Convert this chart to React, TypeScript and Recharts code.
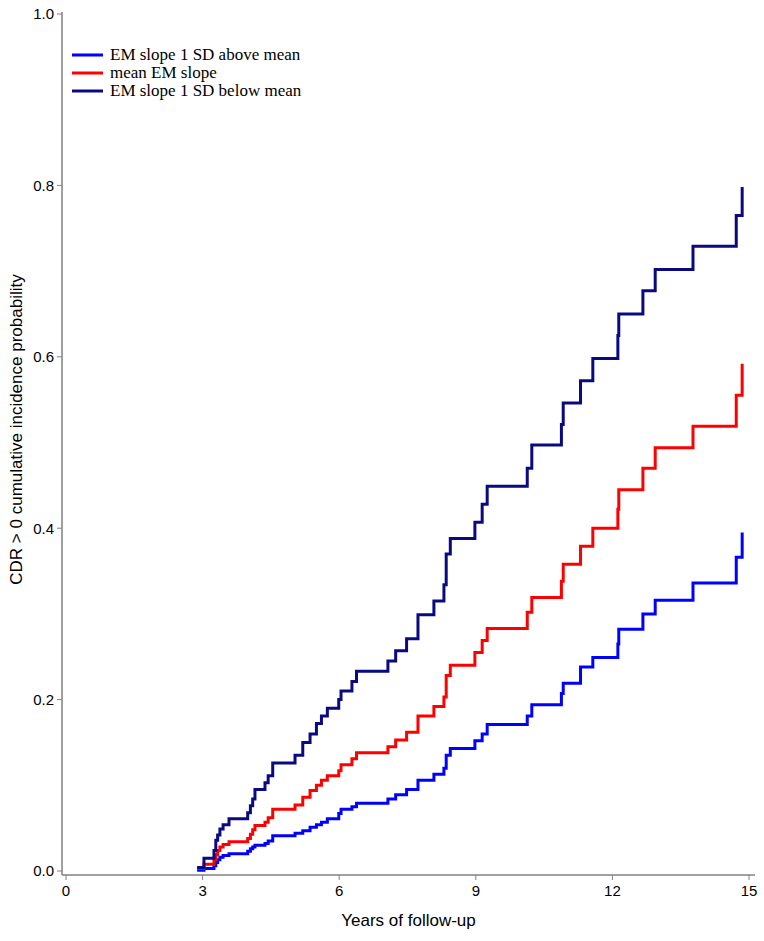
import { LineChart, Line, XAxis, YAxis, Legend, Label } from "recharts";

// event times (years) shared by the three predicted curves
const years = [
  2.88, 3.03, 3.25, 3.29, 3.33, 3.38, 3.45, 3.58, 3.99, 4.05, 4.1, 4.15, 4.37,
  4.44, 4.54, 5.03, 5.2, 5.36, 5.5, 5.61, 5.74, 5.99, 6.04, 6.28, 6.38, 7.07,
  7.24, 7.48, 7.73, 8.08, 8.3, 8.35, 8.44, 8.98, 9.14, 9.25, 10.13, 10.23,
  10.88, 10.92, 11.3, 11.57, 12.12, 12.14, 12.67, 12.94, 13.77, 14.72, 14.85,
];

const aboveMean = [
  0.001, 0.003, 0.006, 0.01, 0.013, 0.016, 0.018, 0.02, 0.023, 0.026, 0.028,
  0.03, 0.032, 0.035, 0.041, 0.044, 0.047, 0.051, 0.054, 0.057, 0.061, 0.067,
  0.072, 0.075, 0.079, 0.084, 0.089, 0.095, 0.106, 0.113, 0.12, 0.135, 0.143,
  0.152, 0.16, 0.171, 0.181, 0.194, 0.207, 0.219, 0.238, 0.249, 0.265, 0.282,
  0.3, 0.316, 0.336, 0.366, 0.395,
];

const meanSlope = [
  0.003, 0.008, 0.013, 0.019, 0.024, 0.028, 0.031, 0.034, 0.038, 0.043, 0.048,
  0.053, 0.057, 0.062, 0.072, 0.077, 0.086, 0.094, 0.1, 0.106, 0.111, 0.117,
  0.124, 0.131, 0.138, 0.145, 0.153, 0.162, 0.181, 0.192, 0.203, 0.228, 0.24,
  0.255, 0.269, 0.283, 0.302, 0.319, 0.338, 0.358, 0.379, 0.4, 0.422, 0.445,
  0.47, 0.494, 0.519, 0.555, 0.592,
];

const belowMean = [
  0.004, 0.015, 0.024, 0.036, 0.042, 0.049, 0.054, 0.061, 0.068, 0.076, 0.084,
  0.095, 0.103, 0.111, 0.126, 0.135, 0.15, 0.16, 0.172, 0.181, 0.19, 0.2, 0.21,
  0.221, 0.233, 0.245, 0.257, 0.271, 0.299, 0.315, 0.334, 0.37, 0.388, 0.407,
  0.428, 0.449, 0.47, 0.497, 0.521, 0.546, 0.572, 0.598, 0.625, 0.65, 0.677,
  0.702, 0.729, 0.765, 0.798,
];

const xTicks = [0, 3, 6, 9, 12, 15];
const yTicks = [0, 0.2, 0.4, 0.6, 0.8, 1.0];

const series = [
  { key: "above", name: "EM slope 1 SD above mean", color: "#0000ff" },
  { key: "mean", name: "mean EM slope", color: "#ff0000" },
  { key: "below", name: "EM slope 1 SD below mean", color: "#0a0a80" },
];

const data = years.map((t, i) => ({
  t,
  above: aboveMean[i],
  mean: meanSlope[i],
  below: belowMean[i],
}));

const sans = "'Liberation Sans', Arial, Helvetica, sans-serif";
const serif = "'Liberation Serif', 'Times New Roman', serif";
const axisGrey = "#808080";

function LegendBox() {
  return (
    <div style={{ fontFamily: serif, fontSize: 17, lineHeight: "18px", color: "#000" }}>
      {series.map((s) => (
        <div key={s.key} style={{ display: "flex", alignItems: "center", height: 18 }}>
          <svg width={31} height={18} style={{ marginRight: 7 }}>
            <line x1={0} x2={31} y1={9} y2={9} stroke={s.color} strokeWidth={3} />
          </svg>
          <span style={{ whiteSpace: "nowrap" }}>{s.name}</span>
        </div>
      ))}
    </div>
  );
}

function YTitle(props: any) {
  const vb = props.viewBox;
  const x = vb.x + 18;
  const y = vb.y + vb.height / 2 - 14;
  return (
    <text
      x={x}
      y={y}
      transform={`rotate(-90 ${x} ${y})`}
      textAnchor="middle"
      dominantBaseline="middle"
      fontFamily={sans}
      fontSize={17}
      fill="#000"
    >
      CDR &gt; 0 cumulative incidence probability
    </text>
  );
}

function XTitle(props: any) {
  const vb = props.viewBox;
  return (
    <text
      x={vb.x + vb.width / 2}
      y={vb.y + 51}
      textAnchor="middle"
      fontFamily={sans}
      fontSize={17}
      fill="#000"
    >
      Years of follow-up
    </text>
  );
}

export default function App() {
  return (
    <div style={{ position: "absolute", left: 0, top: 0, background: "#fff" }}>
      <LineChart
        width={764}
        height={941}
        data={data}
        margin={{ top: 12, right: 9, bottom: 0, left: 0 }}
      >
        <XAxis
          dataKey="t"
          type="number"
          domain={[0, 15]}
          ticks={xTicks}
          interval={0}
          padding={{ left: 4, right: 6 }}
          height={66}
          axisLine={{ stroke: axisGrey, strokeWidth: 1.5 }}
          tickLine={{ stroke: axisGrey }}
          tickSize={5}
          tickMargin={5}
          tick={{ fill: "#000", fontSize: 15, fontFamily: sans }}
        >
          <Label content={XTitle} />
        </XAxis>
        <YAxis
          type="number"
          domain={[0, 1]}
          ticks={yTicks}
          interval={0}
          tickFormatter={(v: number) => v.toFixed(1)}
          padding={{ top: 2, bottom: 4 }}
          width={62}
          axisLine={{ stroke: axisGrey, strokeWidth: 1.5 }}
          tickLine={{ stroke: axisGrey }}
          tickSize={5}
          tickMargin={3}
          tick={{ fill: "#000", fontSize: 15, fontFamily: sans }}
        >
          <Label content={YTitle} />
        </YAxis>
        <Legend
          layout="vertical"
          verticalAlign="middle"
          align="center"
          wrapperStyle={{ left: 72, top: 46, width: 260 }}
          content={LegendBox}
        />
        {series.map((s) => (
          <Line
            key={s.key}
            dataKey={s.key}
            name={s.name}
            type="stepAfter"
            stroke={s.color}
            strokeWidth={3}
            dot={false}
            activeDot={false}
            isAnimationActive={false}
          />
        ))}
      </LineChart>
    </div>
  );
}
